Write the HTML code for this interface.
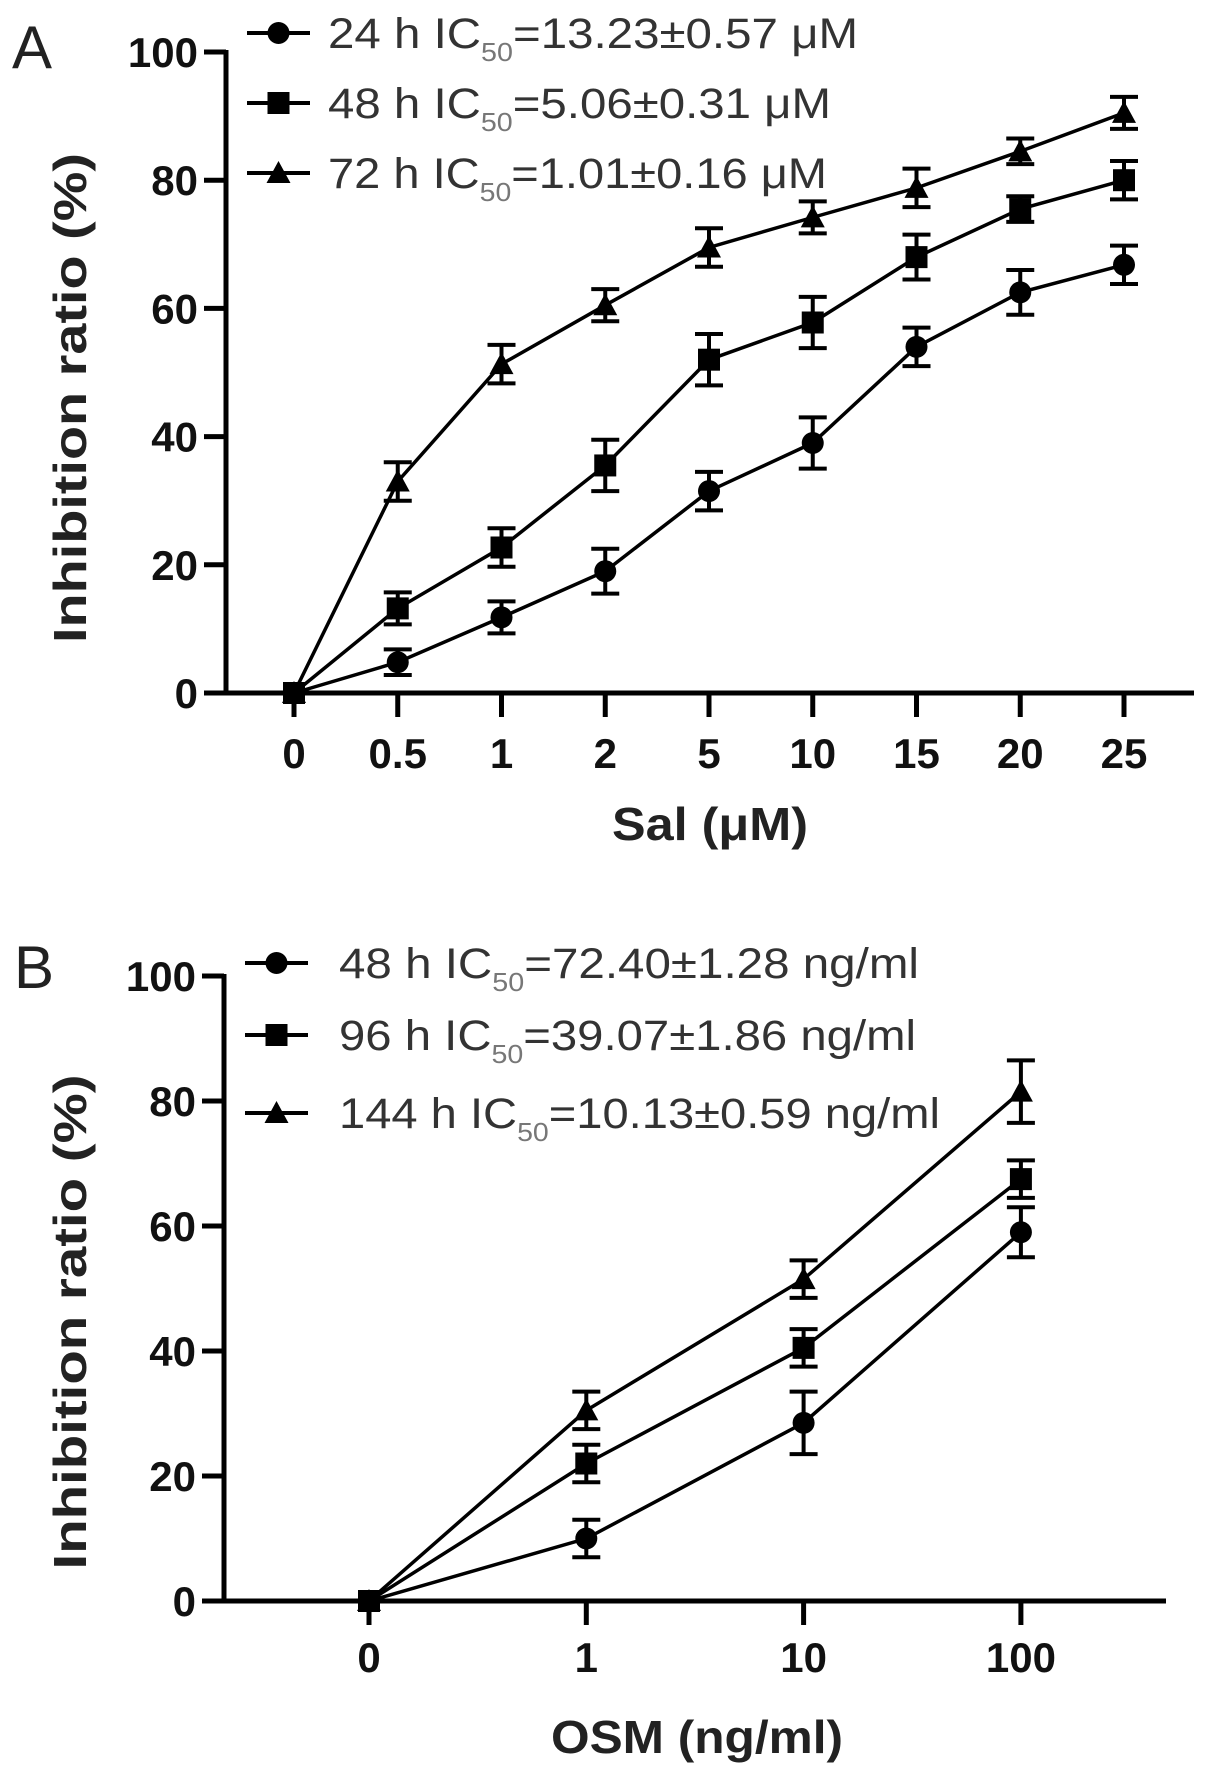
<!DOCTYPE html>
<html><head><meta charset="utf-8"><style>
html,body{margin:0;padding:0;background:#fff;}
svg{display:block;font-family:"Liberation Sans",Arial,sans-serif;}
</style></head><body>
<svg id="fig" width="1205" height="1775" viewBox="0 0 1205 1775" xmlns="http://www.w3.org/2000/svg">
<g id="gA"></g>
<g id="gB"></g>
</svg>
<script>
// Panel A data
const catsA = ["0","0.5","1","2","5","10","15","20","25"];
const a24 = [0,4.8,11.8,19,31.5,39,54,62.5,66.8];
const a24e = [0,2,2.5,3.5,3,4,3,3.5,3];
const a48 = [0,13.2,22.7,35.5,52,57.8,68,75.5,80];
const a48e = [0,2.5,3,4,4,4,3.5,2,3];
const a72 = [0,33,51.3,60.5,69.5,74.2,78.8,84.5,90.5];
const a72e = [0,3,3,2.5,3,2.5,3,2,2.5];
const legA = ["24 h IC|=13.23±0.57 μM","48 h IC|=5.06±0.31 μM","72 h IC|=1.01±0.16 μM"];
// Panel B data
const catsB = ["0","1","10","100"];
const b48 = [0,10,28.5,59];
const b48e = [0,3,5,4];
const b96 = [0,22,40.5,67.5];
const b96e = [0,3,3,3];
const b144 = [0,30.5,51.5,81.5];
const b144e = [0,3,3,5];
const legB = ["48 h IC|=72.40±1.28 ng/ml","96 h IC|=39.07±1.86 ng/ml","144 h IC|=10.13±0.59 ng/ml"];
const yTicks = [0,20,40,60,80,100];

const NS="http://www.w3.org/2000/svg";
function mk(parent,tag,attrs){const e=document.createElementNS(NS,tag);for(const k in attrs)e.setAttribute(k,attrs[k]);parent.appendChild(e);return e;}

function marker(g,type,x,y){
  let m;
  if(type==="circle"){m=mk(g,"circle",{cx:x,cy:y,r:11,fill:"#000"});}
  else if(type==="square"){m=mk(g,"rect",{x:x-11,y:y-11,width:22,height:22,fill:"#000"});}
  else {m=mk(g,"polygon",{points:`${x},${y-12} ${x+12},${y+10} ${x-12},${y+10}`,fill:"#000"});}
  return m;
}

function panel(g,cfg){
  const yS=v=>cfg.y0-(cfg.y0-cfg.y100)*v/100;
  const xS=i=>cfg.x0+i*cfg.dx;
  const ya=mk(g,"line",{x1:cfg.ax,y1:cfg.y100-2,x2:cfg.ax,y2:cfg.y0+2,stroke:"#000","stroke-width":5});
  
  
  const xa=mk(g,"line",{x1:cfg.ax-2,y1:cfg.y0,x2:cfg.xend,y2:cfg.y0,stroke:"#000","stroke-width":5});
  
  
  yTicks.forEach(v=>{
    const y=yS(v);
    mk(g,"line",{x1:cfg.ax-22,y1:y,x2:cfg.ax,y2:y,stroke:"#000","stroke-width":5});
    const t=mk(g,"text",{x:cfg.ax-28,y:y+15,"text-anchor":"end","font-size":42,"font-weight":"bold",fill:"#111"});
    t.textContent=v;
    
    
  });
  cfg.cats.forEach((c,i)=>{
    const x=xS(i);
    mk(g,"line",{x1:x,y1:cfg.y0,x2:x,y2:cfg.y0+24,stroke:"#000","stroke-width":5});
    const t=mk(g,"text",{x:x,y:cfg.xlabY,"text-anchor":"middle","font-size":42,"font-weight":"bold",fill:"#111"});
    t.textContent=c;
    
    
  });
  cfg.series.forEach((s,si)=>{
    const sg=mk(g,"g",{});
    
    
    const pts=s.v.map((v,i)=>xS(i)+","+yS(v)).join(" ");
    mk(sg,"polyline",{points:pts,fill:"none",stroke:"#000","stroke-width":3.5});
    s.v.forEach((v,i)=>{
      const x=xS(i),e=s.e[i];
      if(e>0){
        const eb=mk(sg,"path",{d:`M${x},${yS(v+e)}V${yS(v-e)}M${x-14},${yS(v+e)}H${x+14}M${x-14},${yS(v-e)}H${x+14}`,stroke:"#000","stroke-width":4,fill:"none"});
        
        
      }
      const m=marker(sg,s.type,x,yS(v));
      
      
    });
    const ly=cfg.legY[si];
    const lg=mk(g,"g",{});
    
    
    mk(lg,"line",{x1:cfg.legX1,y1:ly,x2:cfg.legX2,y2:ly,stroke:"#000","stroke-width":4});
    marker(lg,s.type,(cfg.legX1+cfg.legX2)/2,ly);
    const parts=cfg.leg[si].split("|");
    const t=mk(lg,"text",{x:cfg.legTX,y:ly+15,"font-size":43,fill:"#333",textLength:cfg.legLen[si],lengthAdjust:"spacingAndGlyphs"});
    const s1=mk(t,"tspan",{});s1.textContent=parts[0];
    const s2=mk(t,"tspan",{"font-size":26,dy:13,fill:"#777"});s2.textContent="50";
    const s3=mk(t,"tspan",{dy:-13});s3.textContent=parts[1];
  });
  const pl=mk(g,"text",{x:cfg.plX,y:cfg.plY,"font-size":60,fill:"#222"});
  pl.textContent=cfg.label;
  
  
  const yt=mk(g,"text",{x:0,y:0,"font-size":46,"font-weight":"bold",fill:"#222","text-anchor":"middle",textLength:cfg.ytLen,lengthAdjust:"spacingAndGlyphs",transform:`translate(86,${cfg.ytY}) rotate(-90)`});
  yt.textContent="Inhibition ratio (%)";
  
  
  const xt=mk(g,"text",{x:cfg.xtX,y:cfg.xtY,"font-size":46,"font-weight":"bold",fill:"#222","text-anchor":"middle",textLength:cfg.xtLen,lengthAdjust:"spacingAndGlyphs"});
  xt.textContent=cfg.xtitle;
  
  
}

panel(document.getElementById("gA"),{
  ax:226,y0:693,y100:52,x0:294,dx:103.75,xend:1194,cats:catsA,xlabY:768,
  series:[{name:"24h",v:a24,e:a24e,type:"circle"},{name:"48h",v:a48,e:a48e,type:"square"},{name:"72h",v:a72,e:a72e,type:"triangle"}],
  leg:legA,legY:[33,103,173],legX1:247,legX2:310,legTX:328,legLen:[530,503,499],
  label:"A",plX:12,plY:68,ytY:398,ytLen:490,xtitle:"Sal (μM)",xtX:710,xtY:840,xtLen:196
});
panel(document.getElementById("gB"),{
  ax:224,y0:1601,y100:976,x0:369,dx:217.3,xend:1166,cats:catsB,xlabY:1672,
  series:[{name:"48h",v:b48,e:b48e,type:"circle"},{name:"96h",v:b96,e:b96e,type:"square"},{name:"144h",v:b144,e:b144e,type:"triangle"}],
  leg:legB,legY:[963,1035,1113],legX1:245,legX2:308,legTX:339,legLen:[580,577,601],
  label:"B",plX:14,plY:988,ytY:1322,ytLen:495,xtitle:"OSM (ng/ml)",xtX:697,xtY:1753,xtLen:292
});
</script>
</body></html>
